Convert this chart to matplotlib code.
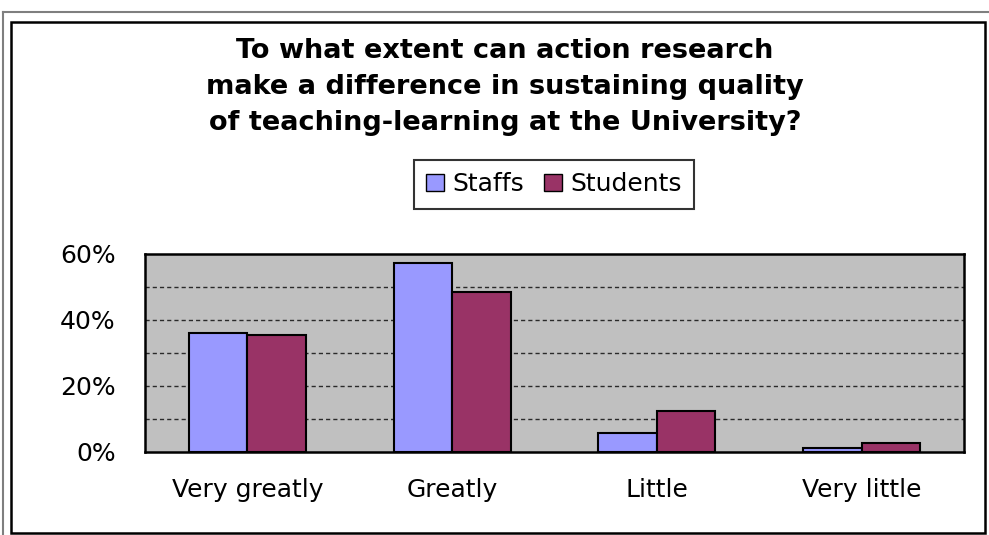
import matplotlib.pyplot as plt
import matplotlib.patches as mpatches
from matplotlib.lines import Line2D
import numpy as np

# Survey responses (share of respondents)
categories = ["Very greatly", "Greatly", "Little", "Very little"]
staffs = [36.0, 57.0, 5.5, 1.0]
students = [35.3, 48.4, 12.4, 2.7]
y_ticks = [0, 20, 40, 60]

STAFF_C = "#9999FF"
STUD_C = "#993366"
PLOT_BG = "#C0C0C0"

plt.rcParams["font.family"] = ["DejaVu Sans"]

W, H = 989, 535
fig = plt.figure(figsize=(W / 100, H / 100), dpi=100)
fig.patch.set_facecolor("white")

# page rule lines and the chart frame
fig.add_artist(Line2D([3 / W, 1], [1 - 12 / H, 1 - 12 / H], color="#7F7F7F",
                      lw=1.5, transform=fig.transFigure))
fig.add_artist(Line2D([3 / W, 3 / W], [0, 1 - 12 / H], color="#7F7F7F",
                      lw=1.5, transform=fig.transFigure))
fig.add_artist(mpatches.Rectangle((11 / W, 2 / H), 974 / W, 511 / H,
                                  fill=False, edgecolor="black", lw=1.8,
                                  transform=fig.transFigure))

ax = fig.add_axes([145 / W, (H - 451.5) / H, 819 / W, 198 / H])
ax.set_facecolor(PLOT_BG)

x = np.arange(len(categories))
bw = 1 / 3.5
ax.bar(x - bw / 2, staffs, bw, color=STAFF_C, edgecolor="black",
       linewidth=1.5, zorder=3, label="Staffs")
ax.bar(x + bw / 2, students, bw, color=STUD_C, edgecolor="black",
       linewidth=1.5, zorder=3, label="Students")

ax.set_xlim(-0.5, len(categories) - 0.5)
ax.set_ylim(0, 60)
for g in range(10, 60, 10):
    ax.axhline(g, color="#2A2A2A", lw=1.0, ls=(0, (3, 2.2)), zorder=1)

ax.set_yticks(y_ticks)
ax.set_yticklabels([f"{v}%" for v in y_ticks])
ax.set_xticks(x)
ax.set_xticklabels(categories)
ax.tick_params(axis="y", length=0, pad=21, labelsize=18)
ax.tick_params(axis="x", length=0, pad=19, labelsize=18)
for s in ax.spines.values():
    s.set_linewidth(1.8)
    s.set_color("black")

fig.text(505 / W, 1 - 87 / H,
         "To what extent can action research\n"
         "make a difference in sustaining quality\n"
         "of teaching-learning at the University?",
         ha="center", va="center", fontsize=19.5, fontweight="bold",
         linespacing=1.5)

leg = fig.legend(handles=[mpatches.Patch(facecolor=STAFF_C, edgecolor="black", label="Staffs"),
                          mpatches.Patch(facecolor=STUD_C, edgecolor="black", label="Students")],
                 loc="center", bbox_to_anchor=(554 / W, 1 - 184 / H), ncol=2,
                 fontsize=18, frameon=True, fancybox=False, handlelength=0.7,
                 handleheight=0.7, handletextpad=0.35, columnspacing=0.8,
                 borderpad=0.5)
leg.get_frame().set_edgecolor("black")
leg.get_frame().set_linewidth(1.5)

fig.savefig("out.png", dpi=100)
